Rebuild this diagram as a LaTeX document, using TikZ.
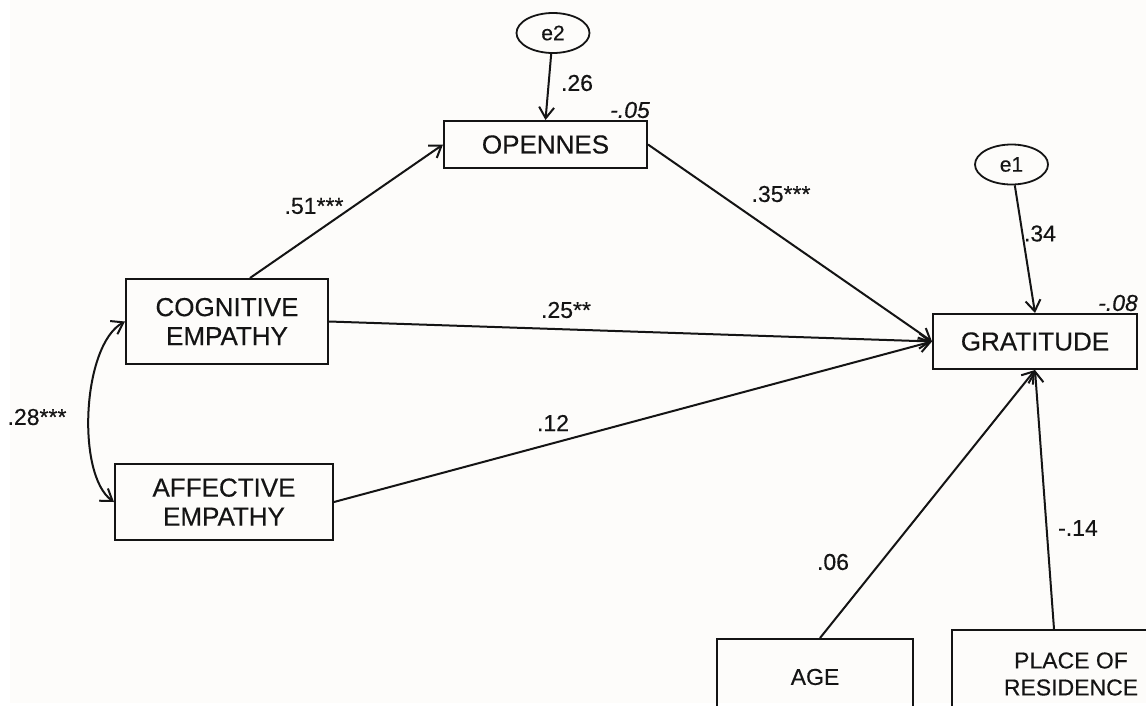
\documentclass[tikz,border=0pt]{standalone}
\usepackage{fontspec}
\setmainfont{Liberation Sans}[FakeBold=0.35]
\usetikzlibrary{arrows.meta,shapes.geometric,calc}
\definecolor{paper}{RGB}{253,252,250}
\definecolor{ink}{RGB}{20,20,20}

\begin{document}
\begin{tikzpicture}[x=1pt,y=-1pt, every node/.style={text=ink},
  var/.style={draw=ink, line width=2pt, align=center, inner sep=0,
              font=\fontsize{26}{29}\selectfont},
  small/.style={font=\fontsize{23}{27}\selectfont},
  err/.style={draw=ink, ellipse, line width=1.8pt, inner sep=0,
              minimum width=73pt, minimum height=40pt,
              font=\fontsize{21}{24}\selectfont},
  lbl/.style={inner sep=0, font=\fontsize{23}{26}\selectfont},
  tip/.tip={Straight Barb[length=11pt,width=15pt]},
  path/.style={draw=ink, line width=2pt, -tip},
  both/.style={draw=ink, line width=2pt, tip-tip}]

% canvas
\useasboundingbox (0,0) rectangle (1146,705);
\fill[white] (0,0) rectangle (1146,705);
\fill[paper] (10,0) rectangle (1146,703);
\clip (0,0) rectangle (1146,705);

% error terms
\node[err] (e2) at (553,33) {e2};
\node[err] (e1) at (1011.5,164.5) {e1};

% observed variables
\node[var, minimum width=203pt, minimum height=47pt] (opn) at (545.5,144.5) {OPENNES};
\node[var, minimum width=204pt, minimum height=55pt] (grat) at (1035,341.5) {GRATITUDE};
\node[var, minimum width=202pt, minimum height=85pt] (cog) at (227,321.5) {COGNITIVE\\EMPATHY};
\node[var, minimum width=218pt, minimum height=76pt] (aff) at (224,502) {AFFECTIVE\\EMPATHY};
\node[var, small, minimum width=196pt, minimum height=76pt] (age) at (815,677) {AGE};
\node[var, small, minimum width=238pt, minimum height=88pt] (place) at (1071,674) {PLACE OF\\RESIDENCE};

% paths
\draw[path] (e2) -- (opn.north);
\draw[path] ([xshift=23pt]cog.north) -- (opn.west);
\draw[path] (opn.east) -- (grat.west);
\draw[path] (cog.east) -- (grat.west);
\draw[path] (aff.east) -- (grat.west);
\draw[path] (e1) -- (grat.north);
\draw[path] ([xshift=5pt]age.north) -- (grat.south);
\draw[path] ([xshift=-17pt]place.north) -- (grat.south);
\draw[both] (cog.west) .. controls (82,345) and (76,475) .. (aff.west);

% coefficients
\node[lbl] (l26) at (577,83) {.26};
\node[lbl] (l05) at (630,110) {\textit{-.05}};
\node[lbl] (l51) at (314,206) {.51***};
\node[lbl] (l35) at (781,194) {.35***};
\node[lbl] (l34) at (1040,233.5) {.34};
\node[lbl] (l08) at (1118,303) {\textit{-.08}};
\node[lbl] (l25) at (566,310) {.25**};
\node[lbl] (l12) at (553,423) {.12};
\node[lbl] (l28) at (37,417) {.28***};
\node[lbl] (l06) at (833,562) {.06};
\node[lbl] (l14) at (1078,528) {-.14};
\end{tikzpicture}
\end{document}
